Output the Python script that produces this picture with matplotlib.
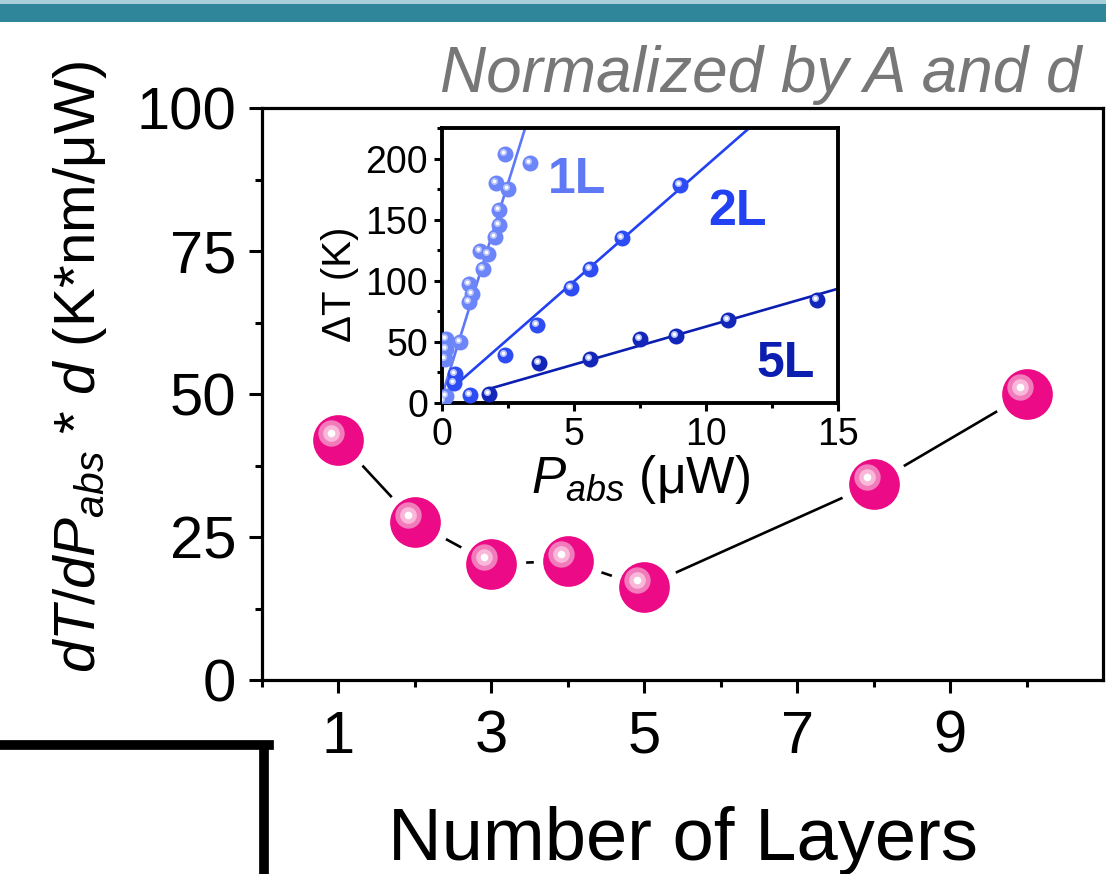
import matplotlib
matplotlib.use('Agg')
import matplotlib.pyplot as plt
import numpy as np
from matplotlib.patches import Rectangle
from matplotlib.lines import Line2D
from matplotlib.ticker import MultipleLocator, FixedLocator
import matplotlib.transforms as mtransforms

plt.rcParams['font.family'] = ['Liberation Sans', 'DejaVu Sans']
plt.rcParams['mathtext.fontset'] = 'custom'
plt.rcParams['mathtext.rm'] = 'Liberation Sans'
plt.rcParams['mathtext.it'] = 'Liberation Sans:italic'
plt.rcParams['mathtext.bf'] = 'Liberation Sans:bold'

# ---- main data: normalized dT/dP vs number of layers ----
layers = [1, 2, 3, 4, 5, 8, 10]
dtdp_norm = [42.0, 27.6, 20.3, 20.8, 16.3, 34.3, 50.0]
layer_ticks = [1, 3, 5, 7, 9]

# ---- inset data: dT vs P_abs ----
p_1L = [0.05, 0.15, 0.13, 0.15, 0.17, 0.68, 1.04, 1.14, 1.01, 1.57, 1.44, 1.75,
        2.00, 2.15, 2.15, 2.05, 2.50, 2.40, 3.32]
t_1L = [2, 6, 36, 44, 52, 50, 83, 89, 97, 110, 124, 122,
        136, 146, 158, 180, 175, 204, 196]
p_2L = [0.44, 0.50, 1.06, 2.39, 3.59, 4.88, 5.62, 6.83, 9.01]
t_2L = [16.7, 23.6, 6.6, 39.5, 63.6, 94, 110, 135, 178]
p_5L = [1.77, 3.69, 5.62, 7.51, 8.85, 10.84, 14.22]
t_5L = [7.4, 32.7, 36, 52, 55, 68, 84]
# linear fits (slope, intercept) as drawn
fit_1L = (69.5, 6.0)
fit_2L = (18.9, 5.0)
fit_5L = (6.2, 0.5)

col_1L = '#5f78f6'
col_2L = '#2141f2'
col_5L = '#0b1eb0'
pink = '#ec0a86'

fig = plt.figure(figsize=(11.06, 8.74), dpi=100)

# header band
fig.patches.append(Rectangle((0, 1 - 22 / 874), 1, 22 / 874, transform=fig.transFigure,
                             facecolor='#2f8599', edgecolor='none', zorder=0))
fig.patches.append(Rectangle((0, 1 - 4 / 874), 1, 4 / 874, transform=fig.transFigure,
                             facecolor='#a9cfd9', edgecolor='none', zorder=0))

ax = fig.add_axes([262 / 1106, 1 - 680 / 874, (1103 - 262) / 1106, (680 - 108) / 874])
ax.set_xlim(0, 11)
ax.set_ylim(0, 100)

ax.plot(layers, dtdp_norm, color='black', lw=1.9, zorder=2)
# white halo to leave gaps in the line around each ball
ax.plot(layers, dtdp_norm, ls='none', marker='o', ms=50, mfc='white', mec='none', zorder=3)


def balls(axis, x, y, color, ms, hl_cols, hl_sizes, off, z=4):
    axis.plot(x, y, ls='none', marker='o', ms=ms, mfc=color, mec='none', zorder=z)
    tr = mtransforms.offset_copy(axis.transData, fig=fig, x=-off, y=off, units='dots')
    for c, s in zip(hl_cols, hl_sizes):
        axis.plot(x, y, ls='none', marker='o', ms=s, mfc=c, mec='none', zorder=z, transform=tr)


balls(ax, layers, dtdp_norm, pink, 36.5, ['#f27bbb', '#f9b8da', 'white'], [19, 12, 5.5], 7)

ax.xaxis.set_major_locator(FixedLocator(layer_ticks))
ax.xaxis.set_minor_locator(MultipleLocator(2))
ax.yaxis.set_major_locator(MultipleLocator(25))
ax.yaxis.set_minor_locator(MultipleLocator(12.5))
ax.tick_params(which='both', direction='out', width=2.2, top=False, right=False)
ax.tick_params(which='major', length=9.5, labelsize=43)
ax.tick_params(which='minor', length=5)
ax.tick_params(axis='x', pad=12)
ax.tick_params(axis='y', pad=9)
for s in ax.spines.values():
    s.set_linewidth(2.3)

fig.text(80 / 1106, 1 - 367 / 874, r'$dT/dP_{abs}$ * $d$ (K*nm/μW)', rotation=90,
         ha='center', va='center', fontsize=42)
fig.text(683 / 1106, 1 - 860 / 874, 'Number of Layers', ha='center', va='baseline', fontsize=53.5)
fig.text(1082 / 1106, 1 - 92 / 874, 'Normalized by A and d', ha='right', va='baseline',
         fontsize=46, style='italic', color='#777777')

# bottom-left frame corner
fig.add_artist(Line2D([0, 269 / 1106], [1 - 745 / 874, 1 - 745 / 874], transform=fig.transFigure,
                      color='black', lw=7, solid_capstyle='projecting'))
fig.add_artist(Line2D([264 / 1106, 264 / 1106], [1 - 745 / 874, 0], transform=fig.transFigure,
                      color='black', lw=7, solid_capstyle='butt'))

# ---- inset ----
ins = fig.add_axes([442 / 1106, 1 - 403 / 874, (838 - 442) / 1106, (403 - 128) / 874])
ins.set_xlim(0, 15)
ins.set_ylim(0, 225)
ins.set_zorder(5)

for px, ty, fit, c, lc in [(p_1L, t_1L, fit_1L, col_1L, '#6c85f8'),
                           (p_2L, t_2L, fit_2L, col_2L, '#2d4cf3'),
                           (p_5L, t_5L, fit_5L, col_5L, '#1226b9')]:
    xx = np.array([min(px), 15])
    ins.plot(xx, fit[0] * xx + fit[1], color=c, lw=1.9, zorder=2)
    balls(ins, px, ty, lc, 11.5, ['#b9c5fb', 'white'], [5, 2.5], 2, z=3)

ins.text(4.0, 172, '1L', color=col_1L, fontsize=36, fontweight='bold')
ins.text(10.1, 146, '2L', color=col_2L, fontsize=36, fontweight='bold')
ins.text(11.9, 21, '5L', color=col_5L, fontsize=36, fontweight='bold')

ins.xaxis.set_major_locator(MultipleLocator(5))
ins.xaxis.set_minor_locator(MultipleLocator(2.5))
ins.yaxis.set_major_locator(MultipleLocator(50))
ins.yaxis.set_minor_locator(MultipleLocator(25))
ins.tick_params(which='both', direction='out', width=2.2, top=False, right=False)
ins.tick_params(which='major', length=6, labelsize=27, pad=4)
ins.tick_params(which='minor', length=3.5)
for s in ins.spines.values():
    s.set_linewidth(2.8)
ins.set_xlabel(r'$P_{abs}$ (μW)', fontsize=37, labelpad=0)
ins.set_ylabel('ΔT (K)', fontsize=29)
ins.yaxis.set_label_coords(-0.21, 0.43)

fig.savefig('out.png', dpi=100)
